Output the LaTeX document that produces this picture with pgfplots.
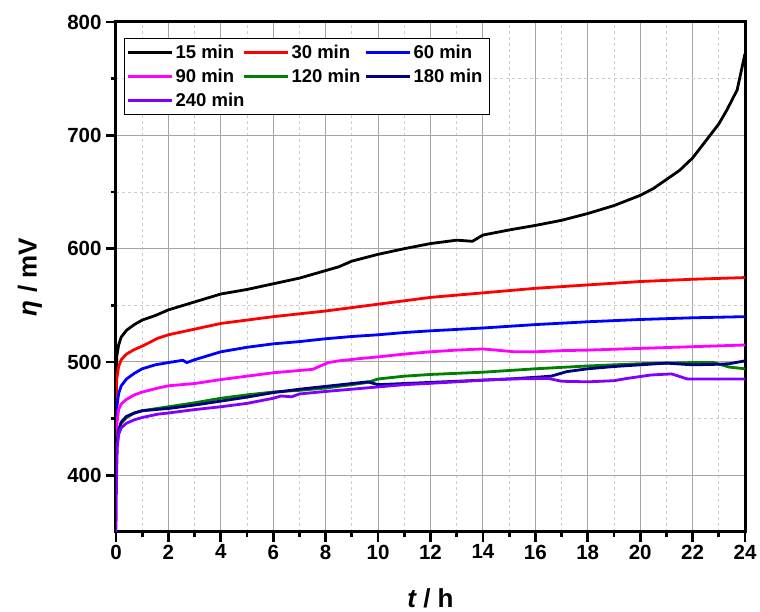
\documentclass[border=0pt]{standalone}
\usepackage{fontspec}
\setmainfont{Liberation Sans}
\usepackage{pgfplots}
\pgfplotsset{compat=1.18}

\definecolor{navyc}{RGB}{0,0,128}
\definecolor{violetc}{RGB}{128,0,255}
\definecolor{greenc}{RGB}{0,128,0}
\definecolor{magentac}{RGB}{255,0,255}
\definecolor{redc}{RGB}{255,0,0}
\definecolor{bluec}{RGB}{0,0,255}
\definecolor{majgrid}{RGB}{165,165,165}
\definecolor{mingrid}{RGB}{205,205,205}

\pgfplotsset{curve/.style={line width=2.8pt, line join=round}}

\begin{document}
\begin{tikzpicture}
\useasboundingbox (-116pt,-80pt) rectangle (644pt,532pt);
\begin{axis}[
  at={(0,0)}, anchor=south west,
  scale only axis, width=629pt, height=510pt,
  xmin=0, xmax=24, ymin=350, ymax=800,
  xtick={0,2,...,24}, ytick={400,500,...,800},
  minor x tick num=1, minor y tick num=1,
  grid=both,
  major grid style={majgrid, line width=1pt},
  minor grid style={mingrid, line width=0.8pt, dash pattern=on 3pt off 3pt},
  axis line style={line width=3pt},
  tick style={black, line width=2.8pt},
  major tick length=10pt, minor tick length=5pt,
  tick align=outside, tick pos=left,
  /pgf/number format/assume math mode=true,
  ticklabel style={font=\fontsize{20.5}{24}\selectfont\bfseries},
  xticklabel style={inner sep=2.5pt},
  yticklabel style={xshift=-1pt},
  label style={font=\fontsize{26}{30}\selectfont\bfseries},
  xlabel={{\itshape t} / h},
  ylabel={{\itshape η} / mV},
  xlabel style={at={(axis description cs:0.5,-0.1294)}, anchor=center},
  ylabel style={at={(axis description cs:-0.1367,0.5)}, anchor=center},
  no markers,
  legend columns=3,
  legend style={at={(axis description cs:0.0127,0.9686)}, anchor=north west,
    draw=black, line width=1.2pt, font=\fontsize{18.5}{22}\selectfont\bfseries,
    column sep=0pt, row sep=5.5pt, inner xsep=2pt, inner ysep=4pt},
  legend cell align=left,
  legend image code/.code={\draw[#1, line width=3pt] (0pt,0pt) -- (44pt,0pt);},
]
% 15 min
\addplot[black, curve] coordinates {
(0,480) (0.03,505) (0.1,515) (0.2,522) (0.4,528) (0.7,533) (1,537) (1.5,541)
(2,546) (3,553) (4,560) (5,564) (6,569) (7,574) (7.9,580) (8.5,584) (9,589)
(9.5,592) (10,595) (11,600) (12,604.5) (13,607.5) (13.6,606.5) (14,612)
(15,616.5) (16,620.5) (17,625) (18,631) (19,638) (20,647) (20.5,653) (21,661)
(21.5,669) (22,680) (22.5,695) (23,710) (23.3,722) (23.7,740) (24,772)};
\addlegendentry{\makebox[65pt][l]{15 min}}
% 30 min
\addplot[redc, curve] coordinates {
(0,465) (0.03,485) (0.1,496) (0.2,502) (0.4,507) (0.7,511) (1,514) (1.6,521)
(2,524) (3,529) (4,534) (5,537) (6,540) (7,542.5) (8,545) (9,548) (10,551)
(11,554) (12,557) (14,561) (16,565) (18,568) (20,571) (22,573) (24,574.5)};
\addlegendentry{\makebox[71pt][l]{30 min}}
% 60 min
\addplot[bluec, curve] coordinates {
(0,440) (0.03,460) (0.1,472) (0.2,479) (0.4,485) (0.7,490) (1,494) (1.5,497.5)
(2,499.5) (2.55,501.5) (2.7,499.5) (3,502) (4,509) (5,513) (6,516) (7,518)
(8,520.5) (9,522.5) (10,524) (11,526) (12,527.5) (14,530) (16,533) (18,535.5)
(20,537.5) (22,539) (24,540)};
\addlegendentry{\makebox[72pt][l]{60 min}}
% 90 min
\addplot[magentac, curve] coordinates {
(0,425) (0.03,445) (0.1,458) (0.2,463) (0.4,467) (0.7,471) (1,473.5) (1.6,477)
(2,479) (3,481) (4,484.5) (5,487.5) (6,490.5) (7,492.5) (7.5,493.5) (8.1,499.5)
(8.5,501) (9.3,503) (10,504.5) (11,507) (12,509) (13,510.5) (14,511.5)
(14.5,510.5) (15.2,509) (16,509) (17,510) (18,510.5) (20,512) (22,513.5) (24,515)};
\addlegendentry{\makebox[65pt][l]{90 min}}
% 120 min
\addplot[greenc, curve] coordinates {
(0,400) (0.03,425) (0.1,440) (0.2,446) (0.4,451) (0.7,455) (1,457) (2,460.5)
(3,464) (4,468) (5,471) (6,473.5) (7,475) (8,477) (9,480) (9.6,482) (10,485)
(11,487.5) (12,489) (13,490) (14,491) (15,492.5) (16,494) (18,496.5) (20,498.5)
(22,499.5) (22.8,499.5) (23.4,495.5) (24,494)};
\addlegendentry{\makebox[71pt][l]{120 min}}
% 180 min
\addplot[navyc, curve] coordinates {
(0,400) (0.03,425) (0.1,440) (0.2,447) (0.4,452) (0.7,455) (1,457) (2,459)
(3,462) (4,465.5) (5,469) (6,473) (7,476) (8,478.5) (9,481) (9.6,482.5)
(10,480) (11,481) (12,482) (13,483) (14,484) (15,485) (16,486.5) (16.6,487.5)
(17.2,491.5) (18,494) (19,496) (20,497.5) (21,499) (22,497.5) (23,498)
(23.4,498.5) (24,501)};
\addlegendentry{\makebox[72pt][l]{180 min}}
% 240 min
\addplot[violetc, curve] coordinates {
(0,350) (0.02,400) (0.05,425) (0.1,436) (0.2,442) (0.4,446) (0.7,449) (1,451)
(1.6,454) (2,455) (3,458) (4,460.5) (5,463.5) (6,468) (6.3,470) (6.7,469.3)
(7,471.8) (8,474) (9,476) (10,478) (11,480) (12,481.2) (13,482.5) (14,484)
(15,485) (16.5,485.5) (17,483) (18,482.5) (19,483.5) (19.5,485.5) (20.4,488.5)
(21.2,489.5) (21.8,485) (22.5,485) (24,485)};
\addlegendentry{\makebox[65pt][l]{240 min}}
\end{axis}
\end{tikzpicture}
\end{document}
